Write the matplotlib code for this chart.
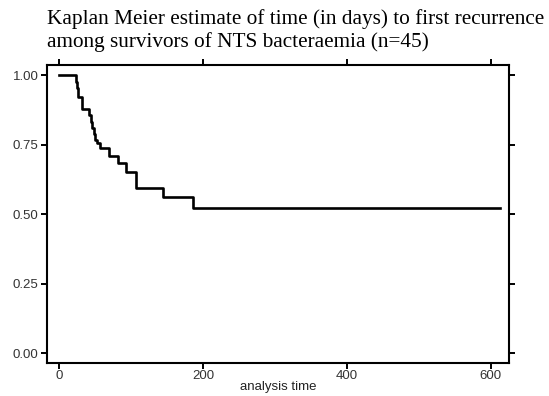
import numpy as np
import matplotlib
matplotlib.use('Agg')
import matplotlib.pyplot as plt

# Kaplan Meier step values
times = [0, 24, 25, 27, 32, 42, 44, 46, 48, 50, 53, 57, 69, 82, 93, 107, 144, 186, 612]
surv = [1.0, 0.978, 0.956, 0.922, 0.878, 0.856, 0.833, 0.811, 0.789, 0.767, 0.756,
        0.738, 0.711, 0.684, 0.653, 0.596, 0.561, 0.524, 0.524]

xticks = [0, 200, 400, 600]
yticks = [0.0, 0.25, 0.5, 0.75, 1.0]
ylabels = ['0.00', '0.25', '0.50', '0.75', '1.00']

fig = plt.figure(figsize=(5.49, 3.96), dpi=100)
ax = fig.add_axes([0.0865, 0.084, 0.8405, 0.7506])

ax.step(times, surv, where='post', color='black', lw=1.9)

ax.set_xlim(-16, 625)
ax.set_ylim(-0.035, 1.036)
ax.set_xticks(xticks)
ax.set_yticks(yticks)
ax.set_yticklabels(ylabels)
ax.tick_params(direction='out', length=4.5, width=1.4, labelsize=9.5,
               top=True, right=True, pad=2, colors='black')
ax.tick_params(axis='x', pad=1)
for lab in ax.get_xticklabels() + ax.get_yticklabels():
    lab.set_family('Liberation Sans')
    lab.set_color('#333333')
for s in ax.spines.values():
    s.set_linewidth(1.5)

ax.set_xlabel('analysis time', fontsize=9.5, labelpad=-1, family='Liberation Sans',
              color='#222222')

fig.text(0.086, 0.978, 'Kaplan Meier estimate of time (in days) to first recurrence\n'
         'among survivors of NTS bacteraemia (n=45)',
         family='Liberation Serif', fontsize=15.3, ha='left', va='top',
         linespacing=1.2)

fig.savefig('out.png', dpi=100)
